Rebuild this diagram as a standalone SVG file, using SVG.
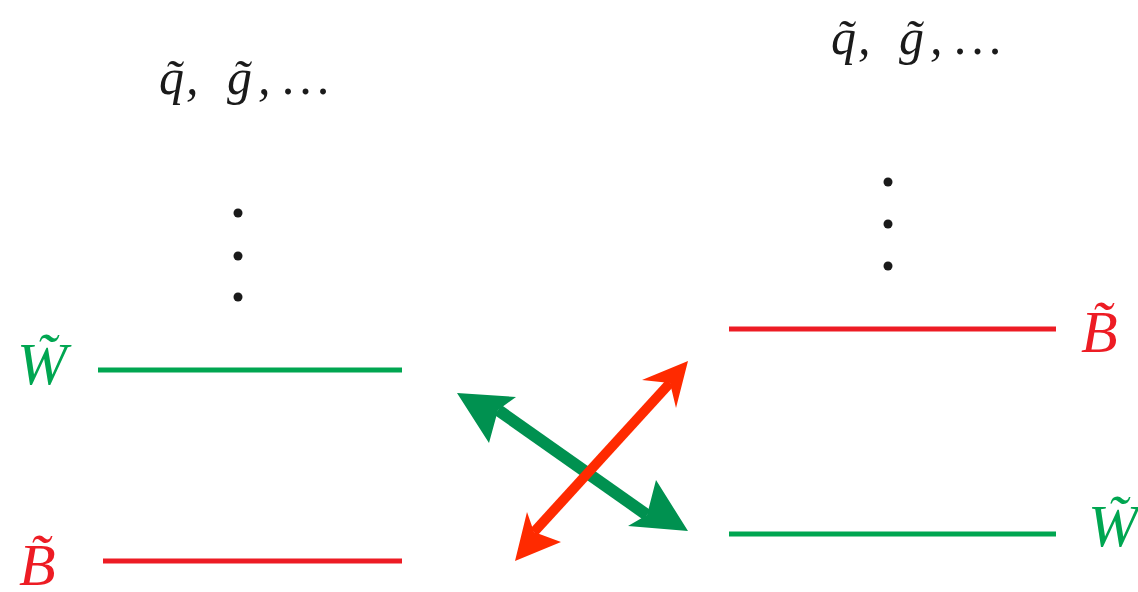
<svg xmlns="http://www.w3.org/2000/svg" width="1138" height="592" viewBox="0 0 1138 592">
<style>
.t{font-family:"Liberation Serif","Times New Roman",serif;font-style:italic;}
.top{font-size:50px;fill:#1a1a1a;}
.lbl{font-size:60px;}
.g{fill:#00a651;}
.r{fill:#ed1c24;}
.lg{stroke:#00a651;stroke-width:5;}
.lr{stroke:#ed1c24;stroke-width:5;}
.dot{fill:#1a1a1a;}
</style>
<rect width="1138" height="592" fill="#fff"/>
<g id="left-heavy">
<text class="t top" x="159" y="94">q̃</text>
<text class="t top" x="186" y="94">,</text>
<text class="t top" x="227" y="94">g̃</text>
<text class="t top" x="258" y="94">,</text>
<text class="t top" x="283" y="94" letter-spacing="5">...</text>
<circle class="dot" cx="238" cy="213" r="4.5"/>
<circle class="dot" cx="238" cy="256" r="4.5"/>
<circle class="dot" cx="238" cy="297" r="4.5"/>
</g>
<g id="right-heavy">
<text class="t top" x="831" y="54">q̃</text>
<text class="t top" x="858" y="54">,</text>
<text class="t top" x="899" y="54">g̃</text>
<text class="t top" x="930" y="54">,</text>
<text class="t top" x="955" y="54" letter-spacing="5">...</text>
<circle class="dot" cx="888" cy="182" r="4.5"/>
<circle class="dot" cx="888" cy="224" r="4.5"/>
<circle class="dot" cx="888" cy="266" r="4.5"/>
</g>
<g id="left-wino">
<line class="lg" x1="98" y1="370" x2="402" y2="370"/>
<text class="t lbl g" x="17" y="384">W̃</text>
</g>
<g id="left-bino">
<line class="lr" x1="103" y1="561" x2="402" y2="561"/>
<text class="t lbl r" x="19" y="585">B̃</text>
</g>
<g id="right-bino">
<line class="lr" x1="729" y1="329" x2="1056" y2="329"/>
<text class="t lbl r" x="1081" y="352">B̃</text>
</g>
<g id="right-wino">
<line class="lg" x1="729" y1="534" x2="1056" y2="534"/>
<text class="t lbl g" x="1088" y="546">W̃</text>
</g>
<g id="connectors">
<line x1="498" y1="410" x2="647" y2="515" stroke="#009150" stroke-width="12"/>
<polygon fill="#009150" points="457,393 516,397 498,410 489,443"/>
<polygon fill="#009150" points="688,531 628,526 647,515 656,480"/>
<line x1="670" y1="383" x2="534" y2="532" stroke="#ff2a00" stroke-width="10"/>
<polygon fill="#ff2a00" points="688,361 676,408 670,383 642,380"/>
<polygon fill="#ff2a00" points="515,561 527,512 534,532 561,542"/>
</g>
</svg>
